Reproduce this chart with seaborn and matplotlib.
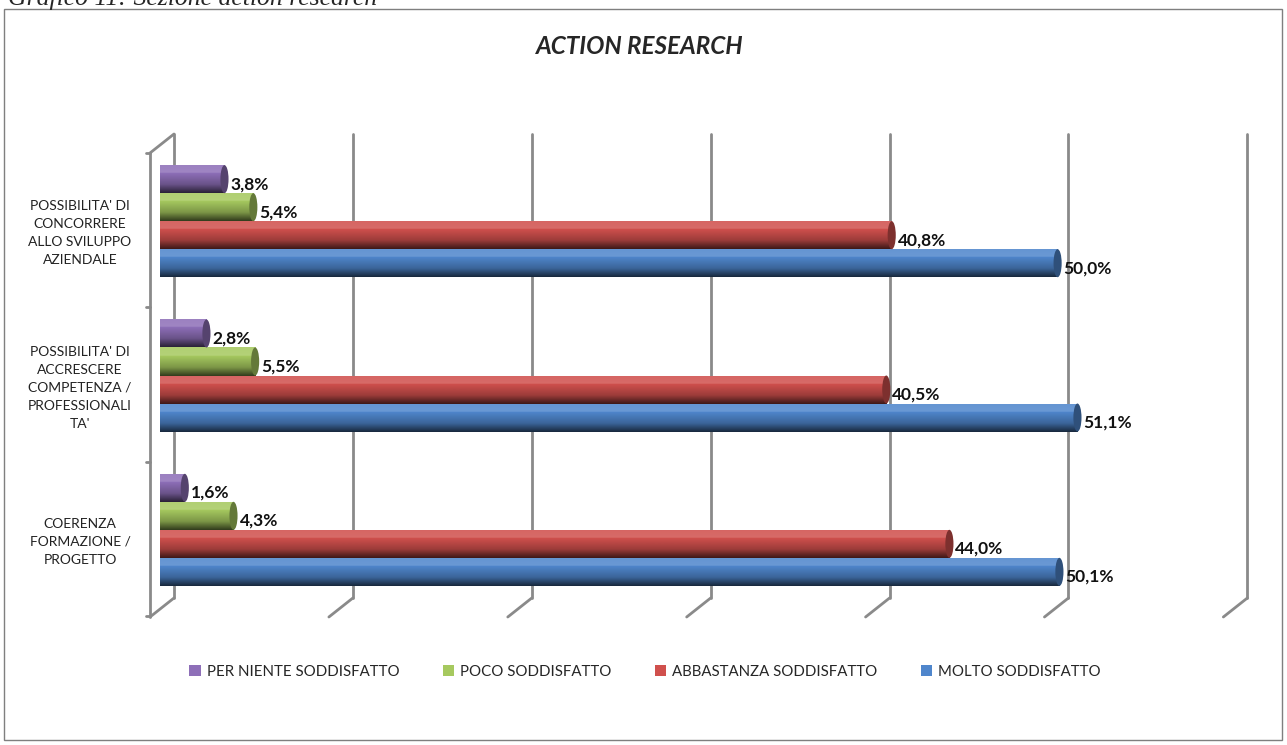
import numpy as np
import pandas as pd
import matplotlib
matplotlib.use("Agg")
import matplotlib.pyplot as plt
import seaborn as sns
from matplotlib.patches import Ellipse, Patch, Rectangle
from matplotlib.lines import Line2D

# data
categories = [
    "POSSIBILITA' DI\nCONCORRERE\nALLO SVILUPPO\nAZIENDALE",
    "POSSIBILITA' DI\nACCRESCERE\nCOMPETENZA /\nPROFESSIONALI\nTA'",
    "COERENZA\nFORMAZIONE /\nPROGETTO",
]
levels = ["PER NIENTE SODDISFATTO", "POCO SODDISFATTO",
          "ABBASTANZA SODDISFATTO", "MOLTO SODDISFATTO"]
per_niente = [3.8, 2.8, 1.6]
poco = [5.4, 5.5, 4.3]
abbastanza = [40.8, 40.5, 44.0]
molto = [50.0, 51.1, 50.1]
colors = ["#8e6fb8", "#a6c95f", "#d0504d", "#4f86cc"]

rows = []
for lev, vals in zip(levels, [per_niente, poco, abbastanza, molto]):
    for cat, v in zip(categories, vals):
        rows.append({"cat": cat, "livello": lev, "val": v})
df = pd.DataFrame(rows)

W, H = 1287, 745
fig = plt.figure(figsize=(W / 100, H / 100), dpi=100)
sns.set_style("white")
plt.rcParams["font.family"] = ["Lato", "DejaVu Sans"]


def fx(x):
    return x / W


def fy(y):
    return 1 - y / H


# axes in pixel terms: x 160..1242, y 144..607
ax = fig.add_axes([fx(160), fy(607), (1242 - 160) / W, (607 - 144) / H])
sns.barplot(data=df, y="cat", x="val", hue="livello",
            hue_order=levels, palette=colors, orient="h", width=0.726,
            ax=ax, legend=False, saturation=1, linewidth=0)
ax.set_xlim(0, 60)
ax.set_ylim(2.5, -0.5)
for s in ax.spines.values():
    s.set_visible(False)
ax.set_xticks([])
ax.set_yticks([])
ax.set_xlabel("")
ax.set_ylabel("")
ax.patch.set_alpha(0)

# 3D-ish walls and gridlines (back plane offset to the right, floor slanting left)
gcol = "#8a8a8a"


def pix(v):
    # data x -> output pixel x
    return ax.transData.transform((v, 0))[0]


def line(xs, ys):
    fig.add_artist(Line2D([fx(x) for x in xs], [fy(y) for y in ys],
                          color=gcol, lw=2, transform=fig.transFigure, zorder=0))


x_zero = pix(0)
for v in range(0, 61, 10):
    xb = 174 + (pix(v) - x_zero) * 0.992
    line([xb, xb], [134, 598])
    line([xb, xb - 24], [598, 617])
x0f = x_zero - 10
line([x0f, x0f], [153, 617])
line([x0f, x0f + 24], [153, 134])
for k in range(4):
    yk = H - ax.transData.transform((0, k - 0.5))[1] + 9
    line([x0f - 4, x0f], [yk, yk])


# cylinder look on each bar
def shade(rgb, t):
    rgb = np.array(rgb)
    if t < 0.3:
        return np.clip(rgb + (1 - rgb) * 0.12 * (1 + t), 0, 1)
    elif t < 0.7:
        return np.clip(rgb * (1.0 - 0.25 * (t - 0.3) / 0.4), 0, 1)
    else:
        return np.clip(rgb * (0.75 - 0.45 * (t - 0.7) / 0.3), 0, 1)


capw = 0.45
for p in list(ax.patches):
    bx, by, bw, bh = p.get_x(), p.get_y(), p.get_width(), p.get_height()
    if bw <= 0:
        continue
    base = matplotlib.colors.to_rgb(p.get_facecolor())
    p.set_width(bw - capw / 2)
    grad = np.array([shade(base, t) for t in np.linspace(0, 1, 60)])[:, None, :]
    im = ax.imshow(grad, extent=(bx, bx + bw, by + bh, by), origin="upper",
                   aspect="auto", zorder=2, interpolation="bilinear")
    im.set_clip_path(p)
    cap = Ellipse((bx + bw - capw / 2, by + bh / 2), capw, bh,
                  facecolor=np.array(base) * 0.6, edgecolor="none", zorder=3)
    ax.add_patch(cap)
    lab = f"{bw:.1f}".replace(".", ",") + "%"
    ax.annotate(lab, (bx + bw, by + bh / 2), xytext=(2, -5),
                textcoords="offset pixels", ha="left", va="center",
                fontsize=12.5, fontweight="bold", color="#111111", zorder=4)

ax.set_xlim(0, 60)
ax.set_ylim(2.5, -0.5)

# category labels
for i, cat in enumerate(categories):
    yc = H - ax.transData.transform((0, i))[1] + 12
    fig.text(fx(80), fy(yc), cat, ha="center", va="center", fontsize=10,
             linespacing=1.6, color="#222222")

# title and caption
fig.text(fx(640), fy(47), "ACTION RESEARCH", ha="center", va="center",
         fontsize=17.5, fontweight="bold", fontstyle="italic")
fig.text(fx(8), fy(5), "Grafico 11: Sezione action research", ha="left",
         va="baseline", fontsize=18.5, fontstyle="italic",
         family=["Liberation Serif", "DejaVu Serif"])

# outer frame
fig.add_artist(Rectangle((fx(4), fy(740)), fx(1278), (740 - 9) / H,
                         fill=False, edgecolor="#7f7f7f", lw=1,
                         transform=fig.transFigure))

handles = [Patch(facecolor=c, edgecolor="none", label=l) for c, l in zip(colors, levels)]
fig.legend(handles=handles, loc="center", bbox_to_anchor=(fx(645), fy(672)),
           ncol=4, frameon=False, fontsize=10.8, handlelength=0.75,
           handleheight=0.75, handletextpad=0.4, columnspacing=2.9)

fig.savefig("out.png", dpi=100)
